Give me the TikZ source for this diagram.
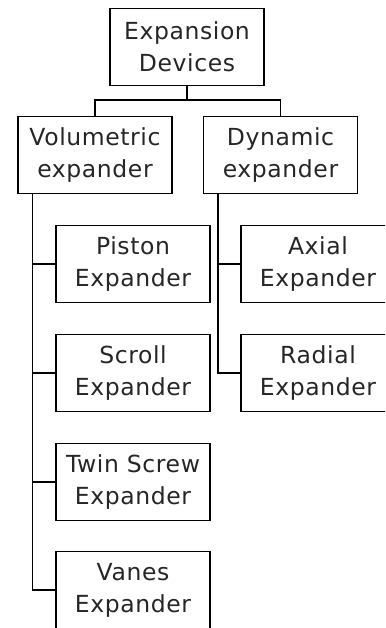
\documentclass[tikz,border=0pt]{standalone}
\usepackage{fontspec}
\setmainfont{DejaVu Sans}[LetterSpace=2.5]
\begin{document}
\begin{tikzpicture}[x=1pt,y=-1pt,
  box/.style={draw=black, line width=1.4pt, minimum width=154pt, minimum height=77pt,
    inner sep=0pt, align=center, text=black!85, font=\fontsize{23.5}{32}\selectfont},
  link/.style={draw=black, line width=1.6pt}]
\useasboundingbox (0,0) rectangle (385,628);
\clip (0,0) rectangle (385,628);
\node[box] (root) at (187,47) {Expansion\\Devices};
\node[box] (vol) at (95,155) {Volumetric\\expander};
\node[box] (dyn) at (280.5,155) {Dynamic\\expander};
\node[box] (piston) at (133,264) {Piston\\Expander};
\node[box] (scroll) at (133,373) {Scroll\\Expander};
\node[box] (twin) at (133,482) {Twin Screw\\Expander};
\node[box] (vanes) at (133,590) {Vanes\\Expander};
\node[box] (axial) at (318,264) {Axial\\Expander};
\node[box] (radial) at (318,373) {Radial\\Expander};
\draw[link] (root.south) -- ++(0,14) -| (vol.north);
\draw[link] (root.south) -- ++(0,14) -| (dyn.north);
\draw[link] ([xshift=15pt]vol.south west) |- (piston.west);
\draw[link] ([xshift=15pt]vol.south west) |- (scroll.west);
\draw[link] ([xshift=15pt]vol.south west) |- (twin.west);
\draw[link] ([xshift=15pt]vol.south west) |- (vanes.west);
\draw[link] ([xshift=15pt]dyn.south west) |- (axial.west);
\draw[link] ([xshift=15pt]dyn.south west) |- (radial.west);
\end{tikzpicture}
\end{document}
